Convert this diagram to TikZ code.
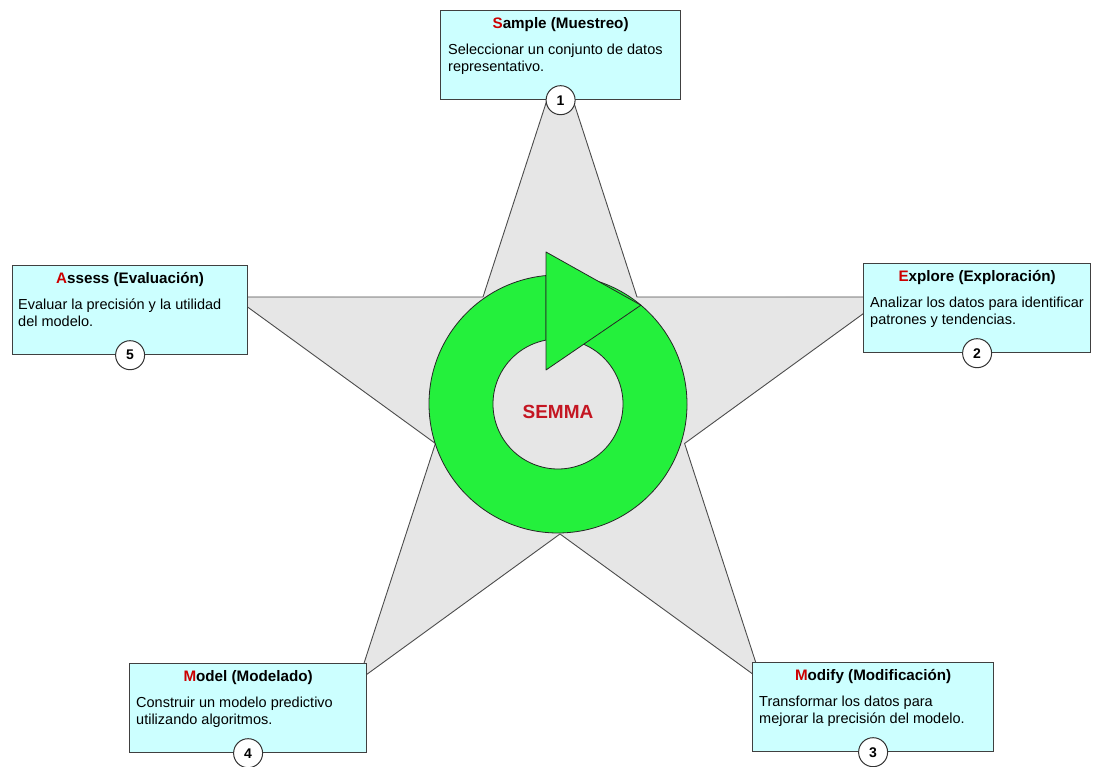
\documentclass[tikz,border=0pt]{standalone}
\usepackage{fontspec}
\setmainfont{Liberation Sans}
\usepackage{xcolor}
\usetikzlibrary{positioning, calc}

\definecolor{boxcyan}{RGB}{204,255,255}
\definecolor{stargray}{RGB}{230,230,230}
\definecolor{ringgreen}{RGB}{36,240,60}
\definecolor{initred}{RGB}{204,0,0}
\definecolor{semmared}{RGB}{196,22,34}

\newcommand{\ini}[1]{\textcolor{initred}{#1}}

\tikzset{
  phase/.style={draw=black!75, line width=1.2pt, fill=boxcyan, minimum width=#1,
    minimum height=89pt, anchor=north west, inner sep=0pt},
  heading/.style={inner sep=0pt, anchor=base, font=\fontsize{15.2}{17}\selectfont\bfseries},
  desc/.style={inner sep=0pt, align=left, font=\fontsize{14.5}{16.5}\selectfont},
  stepno/.style={circle, draw=black!80, line width=1pt, fill=white, minimum size=29pt,
    inner sep=0pt, font=\fontsize{14}{16}\selectfont\bfseries},
  starshape/.style={draw=black!70, line width=0.9pt, fill=stargray, line join=round},
  ring/.style={draw=black!85, line width=0.8pt, fill=ringgreen, line join=round},
  semma/.style={inner sep=0pt, text=semmared, font=\fontsize{19}{21}\selectfont\bfseries}
}

\begin{document}
\begin{tikzpicture}[x=1pt, y=1pt]
    \useasboundingbox (0,0) rectangle (1095,767);

    % the star behind everything
    \coordinate (sc) at (560,364);
    \draw[starshape] ([shift={(90:343)}]sc)
        \foreach \a in {126,198,270,342,54} {
            -- ([shift={(\a:131)}]sc) -- ([shift={(\a+36:343)}]sc)
        } -- cycle;

    % circular arrow
    \coordinate (rc) at (558,363);
    \draw[ring] ([shift={(95.3:129)}]rc) arc[start angle=95.3, end angle=437, radius=129]
        -- ([shift={(68:65)}]rc) arc[start angle=428, end angle=100.6, radius=65] -- cycle;
    \draw[ring] (546,515) -- ([shift={(50:129)}]rc) -- (546,397) -- cycle;
    \node[semma] (semma) at (558,355) {SEMMA};

    % phases
    \node[phase=240pt] (sample)  at (440,757) {};
    \node[phase=227pt] (explore) at (863,504) {};
    \node[phase=241pt] (modify)  at (752,105) {};
    \node[phase=237pt] (model)   at (129,104) {};
    \node[phase=235pt] (assess)  at (12,502)  {};

    \node[heading] (sampleH)  at ([yshift=-19pt]sample.north)  {\ini{S}ample (Muestreo)};
    \node[heading] (exploreH) at ([yshift=-19pt]explore.north) {\ini{E}xplore (Exploración)};
    \node[heading] (modifyH)  at ([yshift=-19pt]modify.north)  {\ini{M}odify (Modificación)};
    \node[heading] (modelH)   at ([yshift=-19pt]model.north)   {\ini{M}odel (Modelado)};
    \node[heading] (assessH)  at ([yshift=-19pt]assess.north)  {\ini{A}ssess (Evaluación)};

    \node[desc] (sampleD)  [below right=34pt and 8pt of sample.north west]
        {Seleccionar un conjunto de datos\\representativo.};
    \node[desc] (exploreD) [below right=34pt and 7pt of explore.north west]
        {Analizar los datos para identificar\\patrones y tendencias.};
    \node[desc] (modifyD)  [below right=34pt and 7pt of modify.north west]
        {Transformar los datos para\\mejorar la precisión del modelo.};
    \node[desc] (modelD)   [below right=34pt and 7pt of model.north west]
        {Construir un modelo predictivo\\utilizando algoritmos.};
    \node[desc] (assessD)  [below right=34pt and 6pt of assess.north west]
        {Evaluar la precisión y la utilidad\\del modelo.};

    \node[stepno] (n1) at (sample.south)  {1};
    \node[stepno] (n2) at (explore.south) {2};
    \node[stepno] (n3) at (modify.south)  {3};
    \node[stepno] (n4) at (model.south)   {4};
    \node[stepno] (n5) at (assess.south)  {5};
\end{tikzpicture}
\end{document}
